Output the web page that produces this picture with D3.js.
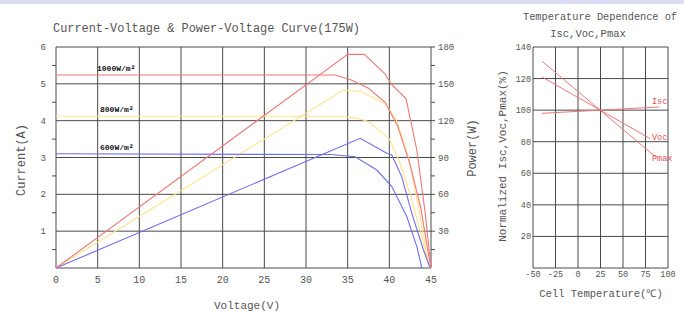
<!DOCTYPE html>
<html>
<head>
<meta charset="utf-8">
<script src="https://cdn.jsdelivr.net/npm/d3@7"></script>
<style>
  body { margin: 0; background: #fff; }
  svg text { font-family: "Liberation Mono", "DejaVu Sans Mono", monospace; fill: #555; }
</style>
</head>
<body>
<svg id="chart" width="684" height="314"></svg>
<script>
// ---- data ----
const voltTicks = [0, 5, 10, 15, 20, 25, 30, 35, 40, 45];
const currentTicks = [1, 2, 3, 4, 5, 6];
const powerTicks = [30, 60, 90, 120, 150, 180];
const irradiance = ["1000W/m²", "800W/m²", "600W/m²"];

// [voltage, current] for each irradiance
const iv1000 = [[0, 5.24], [33.5, 5.24], [35.5, 5.1], [37.5, 4.88], [39.5, 4.5], [41, 3.85], [42.5, 2.8], [43.8, 1.6], [44.6, 0.5], [45, 0]];
const iv800 = [[0, 4.12], [34, 4.12], [36, 4.07], [37.5, 3.98], [40, 3.5], [41.2, 2.9], [42.5, 2.0], [43.7, 1.0], [44.6, 0.2], [44.8, 0]];
const iv600 = [[0, 3.1], [33, 3.08], [35.9, 3.02], [38.5, 2.66], [40.3, 2.21], [42.1, 1.39], [43.3, 0.58], [43.9, 0]];
// [voltage, power]
const pv1000 = [[0, 0], [35, 174], [37, 174], [39.5, 158], [40.2, 150], [42, 138], [43.3, 96], [44.3, 45], [45, 0]];
const pv800 = [[0, 0], [34.5, 145], [36.5, 144], [39.5, 134], [40.9, 120], [42.3, 90], [43.5, 50], [44.5, 10], [44.8, 0]];
const pv600 = [[0, 0], [36.5, 105.6], [39.7, 93.4], [40.3, 92], [41.5, 74], [42.7, 44.5], [44.1, 14.7], [44.9, 0]];

const tempTicks = [-50, -25, 0, 25, 50, 75, 100];
const normTicks = [20, 40, 60, 80, 100, 120, 140];
const tempSeries = ["Isc", "Voc", "Pmax"];
// [temperature, normalized %]
const iscT = [[-40, 98], [90, 102]];
const vocT = [[-40, 121], [80, 82]];
const pmaxT = [[-40, 131], [87, 70]];

const colors = { red: "#f07878", yellow: "#ffe38a", blue: "#6e6ef0", grid: "#4a4a4a" };

const svg = d3.select("#chart");

// lavender strip along the top
svg.append("rect").attr("x", 0).attr("y", 0).attr("width", 684).attr("height", 4).attr("fill", "#dcdcf4");

// ---------- left chart: I-V and P-V ----------
const x = d3.scaleLinear().domain([0, 45]).range([56, 431]);
const yI = d3.scaleLinear().domain([0, 6]).range([268, 47]);
const yP = d3.scaleLinear().domain([0, 180]).range([268, 47]);

const left = svg.append("g");

left.append("g").selectAll("line").data(voltTicks).join("line")
    .attr("x1", d => x(d)).attr("x2", d => x(d))
    .attr("y1", yI(0)).attr("y2", yI(6))
    .attr("stroke", colors.grid).attr("stroke-width", 1);
left.append("g").selectAll("line").data([0].concat(currentTicks)).join("line")
    .attr("x1", x(0)).attr("x2", x(45))
    .attr("y1", d => yI(d)).attr("y2", d => yI(d))
    .attr("stroke", colors.grid).attr("stroke-width", 1);

// minor ticks
left.append("g").selectAll("line").data(d3.range(0.5, 6, 1)).join("line")
    .attr("x1", x(0) - 4).attr("x2", x(0))
    .attr("y1", d => yI(d)).attr("y2", d => yI(d))
    .attr("stroke", colors.grid);
left.append("g").selectAll("line").data(d3.range(15, 180, 30)).join("line")
    .attr("x1", x(45)).attr("x2", x(45) + 4)
    .attr("y1", d => yP(d)).attr("y2", d => yP(d))
    .attr("stroke", colors.grid);
left.append("g").selectAll("line").data(powerTicks).join("line")
    .attr("x1", x(45)).attr("x2", x(45) + 4)
    .attr("y1", d => yP(d)).attr("y2", d => yP(d))
    .attr("stroke", colors.grid);

// tick labels
left.append("g").selectAll("text").data(voltTicks).join("text")
    .attr("x", d => x(d)).attr("y", 283)
    .attr("text-anchor", "middle").attr("font-size", 10).text(d => d);
left.append("g").selectAll("text").data(currentTicks).join("text")
    .attr("x", 46).attr("y", d => yI(d) + 3)
    .attr("text-anchor", "end").attr("font-size", 9).text(d => d);
left.append("g").selectAll("text").data(powerTicks).join("text")
    .attr("x", 438).attr("y", d => yP(d) + 3)
    .attr("font-size", 9).text(d => d);

// curves
const lineIV = d3.line().x(d => x(d[0])).y(d => yI(d[1]));
const linePV = d3.line().x(d => x(d[0])).y(d => yP(d[1]));
const curves = [
  { data: iv800, gen: lineIV, color: colors.yellow },
  { data: pv800, gen: linePV, color: colors.yellow },
  { data: iv600, gen: lineIV, color: colors.blue },
  { data: pv600, gen: linePV, color: colors.blue },
  { data: iv1000, gen: lineIV, color: colors.red },
  { data: pv1000, gen: linePV, color: colors.red }
];
left.append("g").selectAll("path").data(curves).join("path")
    .attr("d", d => d.gen(d.data))
    .attr("fill", "none").attr("stroke", d => d.color).attr("stroke-width", 1.1);

// irradiance labels
left.append("g").selectAll("text").data(irradiance).join("text")
    .attr("x", (d, i) => i === 0 ? 97 : 100)
    .attr("y", (d, i) => yI([iv1000, iv800, iv600][i][0][1]) - 4)
    .attr("font-size", 8).attr("font-weight", "bold")
    .style("fill", "#111").text(d => d);

// titles
svg.append("text").attr("x", 53).attr("y", 32).attr("font-size", 12)
    .attr("textLength", 307).attr("lengthAdjust", "spacingAndGlyphs")
    .text("Current-Voltage & Power-Voltage Curve(175W)");
svg.append("text").attr("x", 247).attr("y", 309).attr("font-size", 11)
    .attr("text-anchor", "middle").text("Voltage(V)");
svg.append("text").attr("transform", "translate(25,160) rotate(-90)")
    .attr("font-size", 12).attr("text-anchor", "middle").text("Current(A)");
svg.append("text").attr("transform", "translate(476,148) rotate(-90)")
    .attr("font-size", 12).attr("text-anchor", "middle").text("Power(W)");

// ---------- right chart: temperature dependence ----------
const xT = d3.scaleLinear().domain([-50, 100]).range([533, 668]);
const yN = d3.scaleLinear().domain([0, 140]).range([268, 47]);
const right = svg.append("g");

right.append("g").selectAll("line").data(tempTicks).join("line")
    .attr("x1", d => xT(d)).attr("x2", d => xT(d))
    .attr("y1", yN(0)).attr("y2", yN(140))
    .attr("stroke", colors.grid);
right.append("g").selectAll("line").data([0].concat(normTicks)).join("line")
    .attr("x1", xT(-50)).attr("x2", xT(100))
    .attr("y1", d => yN(d)).attr("y2", d => yN(d))
    .attr("stroke", colors.grid);

right.append("g").selectAll("text").data(tempTicks).join("text")
    .attr("x", d => xT(d)).attr("y", 277)
    .attr("text-anchor", "middle").attr("font-size", 8.5).text(d => d);
right.append("g").selectAll("text").data(normTicks).join("text")
    .attr("x", 531).attr("y", d => yN(d) + 3)
    .attr("text-anchor", "end").attr("font-size", 8.5).text(d => d);

const lineT = d3.line().x(d => xT(d[0])).y(d => yN(d[1]));
right.append("g").selectAll("path").data([iscT, vocT, pmaxT]).join("path")
    .attr("d", d => lineT(d))
    .attr("fill", "none").attr("stroke", colors.red).attr("stroke-width", 1);

right.append("g").selectAll("text").data(tempSeries).join("text")
    .attr("x", 652)
    .attr("y", (d, i) => [104, 140, 161][i])
    .attr("font-size", 8.5).style("fill", "#e05050").text(d => d);

svg.append("text").attr("x", 600).attr("y", 20).attr("font-size", 10.5)
    .attr("text-anchor", "middle").attr("textLength", 154).attr("lengthAdjust", "spacingAndGlyphs")
    .text("Temperature Dependence of");
svg.append("text").attr("x", 588).attr("y", 37).attr("font-size", 10.5)
    .attr("text-anchor", "middle").text("Isc,Voc,Pmax");
svg.append("text").attr("x", 601).attr("y", 297).attr("font-size", 10.5)
    .attr("text-anchor", "middle").text("Cell Temperature(℃)");
svg.append("text").attr("transform", "translate(506,156) rotate(-90)")
    .attr("font-size", 11).attr("text-anchor", "middle").text("Normalized Isc,Voc,Pmax(%)");
</script>
</body>
</html>
